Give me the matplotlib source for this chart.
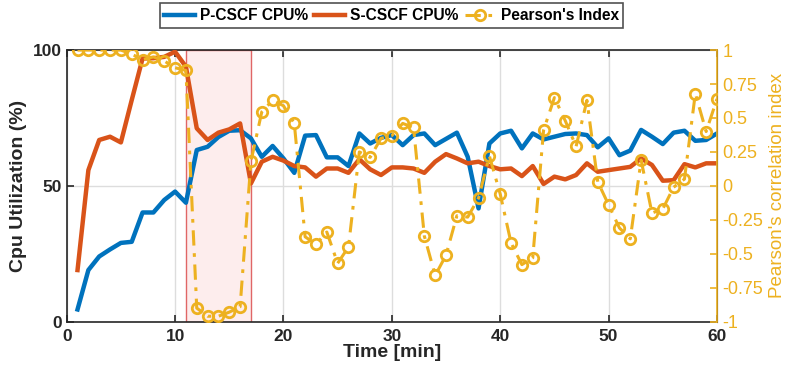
import matplotlib
matplotlib.use("Agg")
import matplotlib.pyplot as plt

plt.rcParams['font.family'] = ['Liberation Sans', 'DejaVu Sans']

time_min = list(range(1, 61))

p_cscf_cpu = [4.5, 19, 24, 26.6, 29, 29.4, 40.2, 40.2, 44.8, 47.9,
              43.8, 63.2, 64.4, 68, 70.3, 70.5, 67.5, 60.7, 64.7, 60.1,
              54.8, 68.5, 68.7, 60.5, 60.5, 57.3, 69.3, 65.6, 67.7, 68.7,
              65, 68.7, 69.3, 65, 67.3, 69.6, 60.7, 41.7, 65.6, 69.3,
              70.3, 63.8, 69.3, 67.1, 68.1, 69.1, 69.3, 68.7, 64.2, 67.5,
              61.3, 63, 70.6, 68.1, 65.4, 69.6, 70.3, 66.6, 66.9, 69.3]

s_cscf_cpu = [19, 55.8, 66.9, 68.1, 66, 81.6, 96.9, 97, 97.5, 99.4,
              93.9, 71.2, 66.9, 69.6, 70.8, 73, 50.9, 58.9, 60.7, 59.3,
              57.3, 56.8, 53.4, 56.4, 56.4, 54.8, 59.8, 56.1, 54, 56.8,
              56.8, 56.4, 54.8, 58.9, 61.7, 60.1, 58.3, 58.9, 57.3, 56.1,
              56.4, 53.6, 57.3, 50.7, 53.4, 52.4, 54, 58.3, 55.2, 55.8,
              56.4, 57, 60.1, 57.7, 51.9, 52.1, 58, 56.8, 58.3, 58.3]

pearson_index = [1.0, 1.0, 1.0, 1.0, 1.0, 0.97, 0.93, 0.95, 0.92, 0.87,
                 0.85, -0.90, -0.96, -0.96, -0.93, -0.89, 0.18, 0.545, 0.63, 0.59,
                 0.46, -0.375, -0.43, -0.34, -0.57, -0.45, 0.25, 0.21, 0.35, 0.37,
                 0.46, 0.43, -0.37, -0.66, -0.51, -0.22, -0.23, -0.09, 0.22, -0.06,
                 -0.42, -0.58, -0.53, 0.41, 0.65, 0.48, 0.29, 0.63, 0.03, -0.14,
                 -0.31, -0.39, 0.19, -0.2, -0.17, -0.01, 0.05, 0.68, 0.40, 0.64]

shade_span = (11, 17)

x_ticks = [0, 10, 20, 30, 40, 50, 60]
cpu_ticks = [0, 50, 100]
r_ticks = [-1, -0.75, -0.5, -0.25, 0, 0.25, 0.5, 0.75, 1]
r_tick_labels = ['-1', '-0.75', '-0.5', '-0.25', '0', '0.25', '0.5', '0.75', '1']

BLUE = '#0072BD'
ORANGE = '#D95319'
YELLOW = '#EDB120'
DARK = '#262626'

fig = plt.figure(figsize=(7.94, 3.71), dpi=100)
ax = fig.add_axes([0.084, 0.133, 0.819, 0.732])

ax.axvspan(shade_span[0], shade_span[1], facecolor='#FDEDED', edgecolor='#E06666',
           linewidth=1.0, zorder=1)

l1, = ax.plot(time_min, p_cscf_cpu, color=BLUE, lw=3.2, zorder=3, label='P-CSCF CPU%')
l2, = ax.plot(time_min, s_cscf_cpu, color=ORANGE, lw=3.2, zorder=3, label='S-CSCF CPU%')

ax.set_xlim(0, 60)
ax.set_ylim(0, 100)
ax.set_xticks(x_ticks)
ax.set_yticks(cpu_ticks)
ax.grid(True, color='#DDDDDD', lw=1.0, zorder=0)
ax.set_axisbelow(True)
ax.tick_params(axis='both', direction='in', length=5, width=1.2, colors=DARK,
               labelsize=12.5, top=True)
ax.tick_params(axis='x', pad=5)
for lab in ax.get_xticklabels() + ax.get_yticklabels():
    lab.set_fontweight('bold')
for s in ['left', 'bottom', 'top']:
    ax.spines[s].set_color(DARK)
    ax.spines[s].set_linewidth(1.2)
ax.set_xlabel('Time [min]', fontsize=14, fontweight='bold', color=DARK, labelpad=0)
ax.set_ylabel('Cpu Utilization (%)', fontsize=14, fontweight='bold', color=DARK, labelpad=4)

ax2 = ax.twinx()
l3, = ax2.plot(time_min, pearson_index, color=YELLOW, lw=2.2,
               dashes=(5, 2.5, 1.2, 2.5),
               marker='o', markersize=7.5, markerfacecolor='none',
               markeredgewidth=2.0, zorder=4, label="Pearson's Index")
ax2.set_ylim(-1, 1)
ax2.set_yticks(r_ticks)
ax2.set_yticklabels(r_tick_labels)
ax2.tick_params(axis='y', direction='in', length=5, width=1.2, colors=YELLOW,
                labelsize=13, pad=4)
ax2.spines['right'].set_color(YELLOW)
ax2.spines['right'].set_linewidth(1.2)
for s in ['left', 'bottom', 'top']:
    ax2.spines[s].set_visible(False)
ax2.set_ylabel("Pearson's correlation index", fontsize=13.5, color=YELLOW, labelpad=4)

leg = fig.legend(handles=[l1, l2, l3], loc='center', bbox_to_anchor=(0.493, 0.958),
                 ncol=3, frameon=True, fancybox=False, edgecolor=DARK,
                 prop={'weight': 'bold', 'size': 11.2}, handlelength=2.0,
                 handletextpad=0.3, columnspacing=0.4, borderpad=0.3,
                 borderaxespad=0)
leg.get_frame().set_linewidth(1.2)

fig.savefig('out.png', dpi=100)
